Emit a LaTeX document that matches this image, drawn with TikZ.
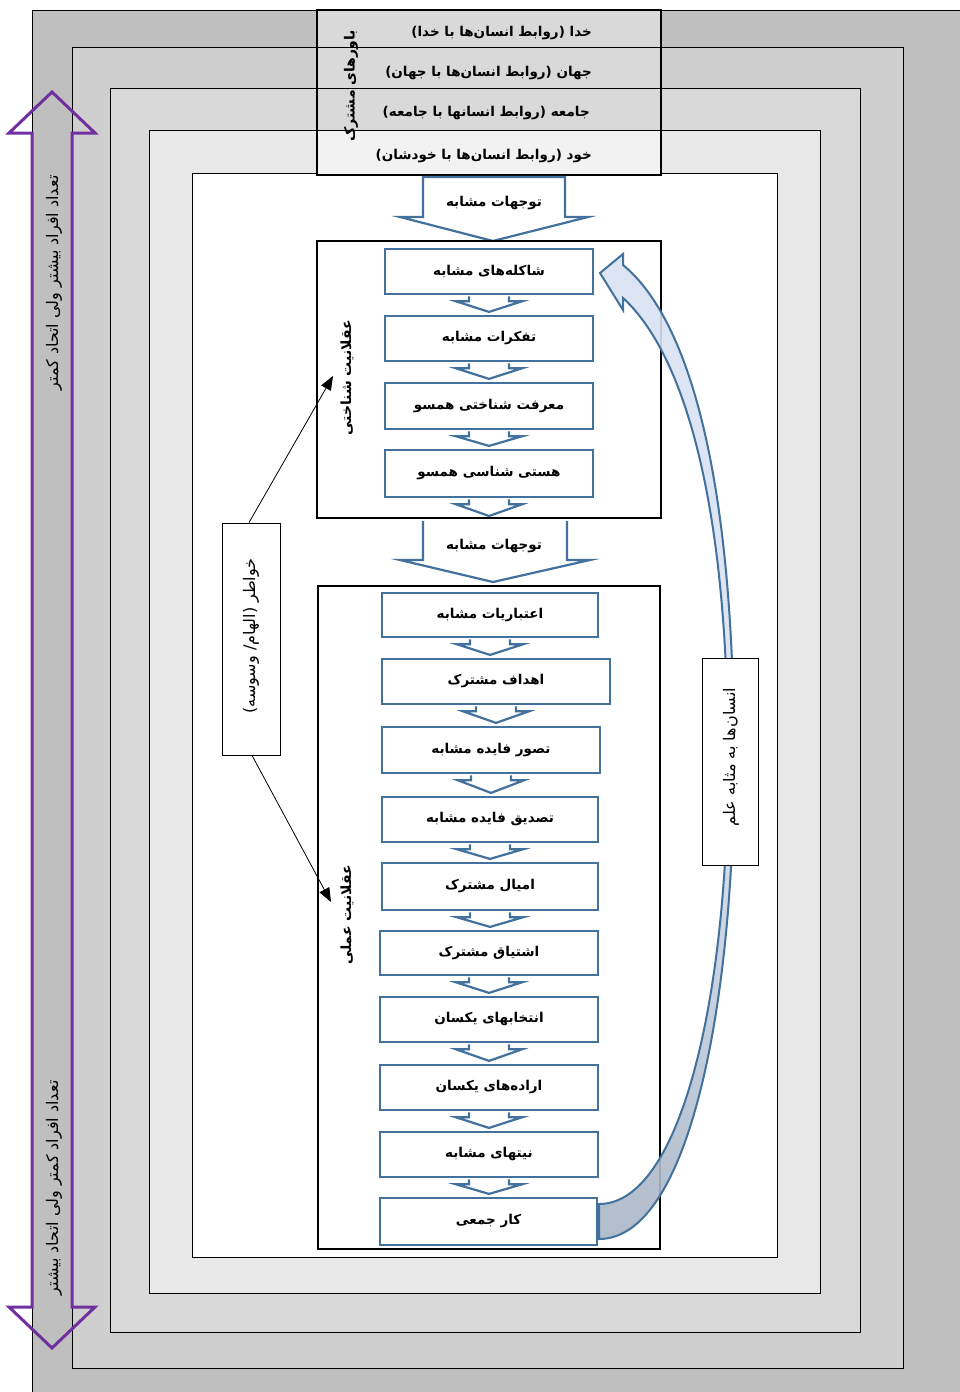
\documentclass[tikz,border=0pt]{standalone}
\usepackage{fontspec}
\TeXXeTstate=1
\newfontfamily\arf[Script=Arabic]{DejaVu Sans}
\usetikzlibrary{arrows.meta,calc}
\definecolor{bl}{HTML}{41719C}
\definecolor{lb}{HTML}{DAE3F3}
\definecolor{gb}{HTML}{A9B6C6}
\definecolor{pu}{HTML}{7030A0}
\definecolor{ga}{HTML}{BFBFBF}
\definecolor{gbb}{HTML}{CFCFCF}
\definecolor{gc}{HTML}{D9D9D9}
\definecolor{gd}{HTML}{E8E8E8}
\definecolor{ge}{HTML}{F2F2F2}
\newcommand\fa[1]{\beginR #1\endR}
\newcommand\chev[2]{\filldraw[chv] ($(#1.south)+(-20,1.2)$) -- ++(0,5) -- ++(-13,0) -- ($(#1.south |- #2)+(0,-3)$) -- ($(#1.south)+(33,6.2)$) -- ++(-13,0) -- ($(#1.south)+(20,1.2)$);}
\begin{document}
\begin{tikzpicture}[x=1pt,y=-1pt,
  layer/.style={draw=black,line width=0.8pt},
  fbox/.style={draw=bl,line width=2.2pt,fill=white,inner sep=0pt,font=\arf\bfseries\fontsize{13.5}{15}\selectfont},
  chv/.style={draw=bl,line width=2.2pt,fill=white,line join=miter},
  blk/.style={draw=bl,line width=2.2pt,fill=white,line join=miter},
  bbox/.style={draw=black,line width=2pt,inner sep=0pt},
  rowt/.style={font=\arf\bfseries\fontsize{13.5}{15}\selectfont,anchor=east,inner sep=0pt},
  vlab/.style={font=\arf\bfseries\fontsize{14}{16}\selectfont,rotate=90,inner sep=0pt},
  thinbox/.style={draw=black,line width=0.8pt,fill=white,inner sep=0pt},
  sidet/.style={font=\arf\fontsize{16}{18}\selectfont,rotate=90,inner sep=0pt},
  ptxt/.style={font=\arf\fontsize{16}{18}\selectfont,rotate=90,inner sep=0pt},
  thinarr/.style={draw=black,line width=0.8pt,-{Triangle[length=14pt,width=11pt]}}
]
\useasboundingbox (0,0) rectangle (960,1392);
\fill[white] (0,0) rectangle (960,1392);
% nested layers
\fill[ga] (32,10) rectangle (960,1392);
\draw[layer] (32,1392) -- (32,10) -- (960,10);
\draw[layer,fill=gbb] (72,47) rectangle (903,1368);
\draw[layer,fill=gc] (110,88) rectangle (860,1332);
\draw[layer,fill=gd] (149,130) rectangle (820,1293);
\draw[layer,fill=white] (192,173) rectangle (777,1257);

% top table
\node[draw=black,line width=0.8pt,fill=gc,minimum width=344,minimum height=37,inner sep=0pt] (r1) at (489,28.5) {};
\node[draw=black,line width=0.8pt,fill=gc,minimum width=344,minimum height=41,inner sep=0pt] (r2) at (489,67.5) {};
\node[draw=black,line width=0.8pt,fill=gc,minimum width=344,minimum height=42,inner sep=0pt] (r3) at (489,109) {};
\node[draw=black,line width=0.8pt,fill=ge,minimum width=344,minimum height=45,inner sep=0pt] (r4) at (489,152.5) {};
\draw[black,line width=2pt] (317,10) rectangle (661,175);
\node[rowt] (t1) at (592,33) {\fa{خدا (روابط انسان‌ها با خدا)}};
\node[rowt] (t2) at (592,73) {\fa{جهان (روابط انسان‌ها با جهان)}};
\node[rowt] (t3) at (590,113) {\fa{جامعه (روابط انسانها با جامعه)}};
\node[rowt] (t4) at (592,156) {\fa{خود (روابط انسان‌ها با خودشان)}};
\node[vlab] (bm) at (351,86) {\fa{باورهای مشترک}};

% first block arrow
\filldraw[blk] (423,177) -- (565,177) -- (565,217) -- (588,217) -- (493,241) -- (400,217) -- (423,217) -- cycle;
\node[font=\arf\bfseries\fontsize{13.5}{15}\selectfont] (ta) at (494,203) {\fa{توجهات مشابه}};

% cognitive box
\node[bbox,minimum width=344,minimum height=277] (cog) at (489,379.5) {};
\node[fbox,minimum width=208,minimum height=45] (k1) at (489,271.5) {\fa{شاکله‌های مشابه}};
\node[fbox,minimum width=208,minimum height=45] (k2) at (489,338.5) {\fa{تفکرات مشابه}};
\node[fbox,minimum width=208,minimum height=46] (k3) at (489,406) {\fa{معرفت شناختی همسو}};
\node[fbox,minimum width=208,minimum height=47] (k4) at (489,473.5) {\fa{هستی شناسی همسو}};
\chev{k1}{k2.north}
\chev{k2}{k3.north}
\chev{k3}{k4.north}
\chev{k4}{cog.south}
\node[vlab] (ks) at (347,378) {\fa{عقلانیت شناختی}};

% second block arrow
\filldraw[blk] (423,521) -- (423,560) -- (400,560) -- (493,582) -- (590,560) -- (567,560) -- (567,521);
\node[font=\arf\bfseries\fontsize{13.5}{15}\selectfont] (tb) at (494,546) {\fa{توجهات مشابه}};

% practical box
\node[bbox,minimum width=342,minimum height=663] (pra) at (489,917.5) {};
\node[fbox,minimum width=216,minimum height=44] (p1) at (490,615) {\fa{اعتباریات مشابه}};
\node[fbox,minimum width=228,minimum height=45] (p2) at (496,681.5) {\fa{اهداف مشترک}};
\node[fbox,minimum width=218,minimum height=46] (p3) at (491,750) {\fa{تصور فایده مشابه}};
\node[fbox,minimum width=216,minimum height=45] (p4) at (490,819.5) {\fa{تصدیق فایده مشابه}};
\node[fbox,minimum width=216,minimum height=47] (p5) at (490,886.5) {\fa{امیال مشترک}};
\node[fbox,minimum width=218,minimum height=44] (p6) at (489,953) {\fa{اشتیاق مشترک}};
\node[fbox,minimum width=218,minimum height=45] (p7) at (489,1019.5) {\fa{انتخابهای یکسان}};
\node[fbox,minimum width=218,minimum height=45] (p8) at (489,1087.5) {\fa{اراده‌های یکسان}};
\node[fbox,minimum width=218,minimum height=45] (p9) at (489,1154.5) {\fa{نیتهای مشابه}};
\node[fbox,minimum width=217,minimum height=47] (p10) at (488.5,1221.5) {\fa{کار جمعی}};
\chev{p1}{p2.north}
\chev{p2}{p3.north}
\chev{p3}{p4.north}
\chev{p4}{p5.north}
\chev{p5}{p6.north}
\chev{p6}{p7.north}
\chev{p7}{p8.north}
\chev{p8}{p9.north}
\chev{p9}{p10.north}
\node[vlab] (ps) at (347,915) {\fa{عقلانیت عملی}};

% left box with arrows
\node[thinbox,minimum width=58,minimum height=232] (lb) at (251,639) {};
\node[sidet] (lbt) at (251,636) {\fa{خواطر (الهام/ وسوسه)}};
\coordinate (ca) at (333,376);
\coordinate (cb) at (331,902);
\draw[thinarr] ($(lb.north)+(-2,0)$) -- (ca);
\draw[thinarr] ($(lb.south)+(1,0)$) -- (cb);

% curved feedback arrow
\draw[bl,line width=2pt,top color=lb,bottom color=gb,middle color=lb,fill opacity=0.9,line join=miter]
  (600,273) -- (623,254) -- (623,265)
  .. controls (690,320) and (734,480) .. (734,760)
  .. controls (734,1000) and (690,1239) .. (599,1239)
  -- (599,1204)
  .. controls (680,1204) and (728,1000) .. (728,760)
  .. controls (728,490) and (680,350) .. (623,298)
  -- (623,310) -- cycle;

% right box
\node[thinbox,minimum width=56,minimum height=207] (rb) at (730,761.5) {};
\node[sidet] (rbt) at (731,757) {\fa{انسان‌ها به مثابه علم}};

% purple double arrow
\draw[pu,line width=3pt,line join=miter] (32,1307) -- (32,133) -- (9,133) -- (52,92) -- (95,133) -- (72,133) -- (72,1307) -- (95,1307) -- (52,1348) -- (9,1307) -- cycle;
\node[ptxt] (pt1) at (54,283) {\fa{تعداد افراد بیشتر ولی اتحاد کمتر}};
\node[ptxt] (pt2) at (54,1188) {\fa{تعداد افراد کمتر ولی اتحاد بیشتر}};
\end{tikzpicture}
\end{document}
